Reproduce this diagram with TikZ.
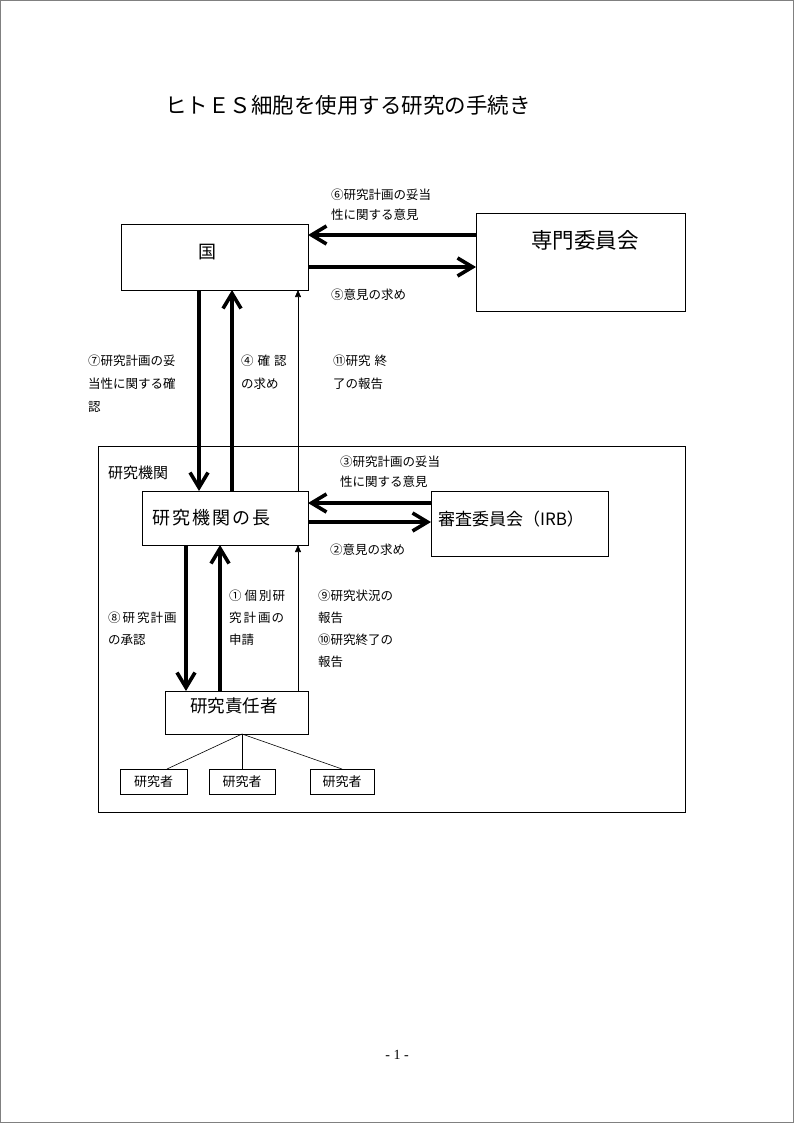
\documentclass[tikz,border=0pt]{standalone}
\usepackage{fontspec}
\setmainfont{Noto Sans CJK JP}
\newfontfamily\pgserif{Liberation Serif}
\usetikzlibrary{arrows.meta}
\begin{document}
\begin{tikzpicture}[x=1pt,y=-1pt,
  box/.style={draw,line width=0.8pt,inner sep=0pt,outer sep=0pt,anchor=north west},
  bigarr/.style={line width=3.6pt,-{Straight Barb[length=15pt,width=18pt]}},
  thinarr/.style={line width=0.6pt,-{Triangle[length=7pt,width=6pt]}},
  lbl/.style={anchor=west,inner sep=0pt,font=\fontsize{12.5}{14}\selectfont},
  tline/.style={line width=0.6pt}
]
\useasboundingbox (0,0) rectangle (794,1123);
\draw[line width=0.8pt,gray] (0.5,0.5) rectangle (793.5,1122.5);

% title
\node[anchor=west,inner sep=0pt,font=\fontsize{21.5}{24}\selectfont] (title) at (165,105) {ヒトＥＳ細胞を使用する研究の手続き};

% boxes
\node[box,minimum width=187pt,minimum height=66pt] (kuni) at (121,224) {};
\node[box,minimum width=209pt,minimum height=98pt] (senmon) at (476,213) {};
\node[box,minimum width=587pt,minimum height=366pt] (kikan) at (98,446) {};
\node[box,minimum width=166pt,minimum height=54pt] (chou) at (142,491) {};
\node[box,minimum width=177pt,minimum height=65pt] (irb) at (431,491) {};
\node[box,minimum width=143pt,minimum height=43pt] (sekinin) at (165,691) {};
\node[box,minimum width=67pt,minimum height=25pt] (r1) at (120,769) {};
\node[box,minimum width=66pt,minimum height=25pt] (r2) at (209,769) {};
\node[box,minimum width=64pt,minimum height=25pt] (r3) at (310,769) {};

% box texts
\node[font=\fontsize{18}{20}\selectfont,inner sep=0pt] (tkuni) at (207,252) {国};
\node[font=\fontsize{21.5}{24}\selectfont,inner sep=0pt] (tsenmon) at (585,240) {専門委員会};
\node[anchor=west,font=\fontsize{15}{18}\selectfont,inner sep=0pt] (tkikan) at (108,473) {研究機関};
\node[anchor=west,font=\fontsize{18}{20}\selectfont,inner sep=0pt] (tchou) at (152,518) {研\hspace{2pt}究\hspace{2pt}機\hspace{2pt}関\hspace{2pt}の\hspace{2pt}長};
\node[font=\fontsize{17}{20}\selectfont,inner sep=0pt] (tirb) at (511,519) {審査委員会（IRB）};
\node[anchor=west,font=\fontsize{17.5}{20}\selectfont,inner sep=0pt] (tsekinin) at (190,706) {研究責任者};
\node[font=\fontsize{13}{15}\selectfont,inner sep=0pt] (tr1) at (r1.center) {研究者};
\node[font=\fontsize{13}{15}\selectfont,inner sep=0pt] (tr2) at (r2.center) {研究者};
\node[font=\fontsize{13}{15}\selectfont,inner sep=0pt] (tr3) at (r3.center) {研究者};

% helper coordinates
\coordinate (h235) at (0,235);
\coordinate (h267) at (0,267);
\coordinate (h503) at (0,503);
\coordinate (h522) at (0,522);
\coordinate (v199) at (199,0);
\coordinate (v232) at (232,0);
\coordinate (v298) at (298,0);
\coordinate (v186) at (186,0);
\coordinate (v220) at (220,0);
\coordinate (v242) at (242,0);
\coordinate (v167) at (167,0);
\coordinate (v342) at (342,0);

% horizontal arrows
\draw[bigarr] (senmon.west |- h235) -- (kuni.east |- h235);
\draw[bigarr] (kuni.east |- h267) -- (senmon.west |- h267);
\draw[bigarr] (irb.west |- h503) -- (chou.east |- h503);
\draw[bigarr] (chou.east |- h522) -- (irb.west |- h522);

% vertical arrows
\draw[bigarr] (kuni.south -| v199) -- (chou.north -| v199);
\draw[bigarr] (chou.north -| v232) -- (kuni.south -| v232);
\draw[thinarr] (chou.north -| v298) -- (kuni.south -| v298);
\draw[bigarr] (chou.south -| v186) -- (sekinin.north -| v186);
\draw[bigarr] (sekinin.north -| v220) -- (chou.south -| v220);
\draw[thinarr] (sekinin.north -| v298) -- (chou.south -| v298);

% tree
\draw[tline] (sekinin.south -| v242) -- (r1.north -| v167);
\draw[tline] (sekinin.south -| v242) -- (r2.north -| v242);
\draw[tline] (sekinin.south -| v242) -- (r3.north -| v342);

% labels
\node[lbl] (l6a) at (331,195) {⑥研究計画の妥当};
\node[lbl] (l6b) at (331,215) {性に関する意見};
\node[lbl] (l5) at (331,295) {⑤意見の求め};
\node[lbl] (l7a) at (88,361) {⑦研究計画の妥};
\node[lbl] (l7b) at (88,384) {当性に関する確};
\node[lbl] (l7c) at (88,407) {認};
\node[lbl] (l4a) at (241,361) {④\hspace{4pt}確\hspace{4pt}認};
\node[lbl] (l4b) at (241,384) {の求め};
\node[lbl] (l11a) at (333,361) {⑪研究\hspace{4pt}終};
\node[lbl] (l11b) at (333,384) {了の報告};
\node[lbl] (l3a) at (340,462) {③研究計画の妥当};
\node[lbl] (l3b) at (340,482) {性に関する意見};
\node[lbl] (l2) at (330,550) {②意見の求め};
\node[lbl] (l8a) at (108,618) {⑧\hspace{2pt}研\hspace{2pt}究\hspace{1pt}計\hspace{1pt}画};
\node[lbl] (l8b) at (108,640) {の承認};
\node[lbl] (l1a) at (229,596) {①\hspace{3pt}個\hspace{2pt}別\hspace{1pt}研};
\node[lbl] (l1b) at (229,618) {究\hspace{2pt}計\hspace{2pt}画\hspace{1pt}の};
\node[lbl] (l1c) at (229,640) {申請};
\node[lbl] (l9a) at (318,596) {⑨研究状況の};
\node[lbl] (l9b) at (318,618) {報告};
\node[lbl] (l10a) at (318,640) {⑩研究終了の};
\node[lbl] (l10b) at (318,662) {報告};

% page number
\node[font=\pgserif\fontsize{14}{16}\selectfont,inner sep=0pt] (pg) at (397,1055) {- 1 -};
\end{tikzpicture}
\end{document}
